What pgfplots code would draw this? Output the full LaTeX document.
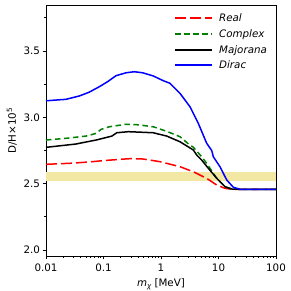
\documentclass[border=0pt]{standalone}
\usepackage{pgfplots}
\pgfplotsset{compat=1.18}
\usepackage{fontspec}
\setmainfont{DejaVu Sans}
\definecolor{band}{RGB}{242,231,163}
\definecolor{mgreen}{RGB}{0,128,0}
\begin{document}
\fontsize{10pt}{12pt}\selectfont
\begin{tikzpicture}
\useasboundingbox (0,0) rectangle (291pt,291pt);
\begin{axis}[
  at={(46pt,35pt)}, anchor=south west,
  scale only axis, width=230pt, height=251pt,
  xmode=log, xmin=0.01, xmax=100, ymin=1.955, ymax=3.847,
  xtick={0.01,0.1,1,10,100}, xticklabels={0.01,0.1,1,10,100},
  ytick={2.0,2.5,3.0,3.5}, yticklabels={2.0,2.5,3.0,3.5},
  minor ytick={2.25,2.75,3.25,3.75},
  tick pos=left, tick align=outside,
  major tick length=3.5pt, minor tick length=2pt,
  every tick/.style={black, line width=0.8pt},
  axis line style={line width=0.8pt},
  /pgf/number format/assume math mode=true,
  tick label style={font=\fontsize{10.3pt}{12pt}\selectfont},
  xticklabel style={yshift=-1pt},
  yticklabel style={xshift=1pt},
  xlabel={\textit{m}\raisebox{-0.35ex}{\fontsize{7pt}{8pt}\selectfont\itshape χ} [MeV]},
  ylabel={D/H×10\textsuperscript{5}},
  label style={font=\fontsize{10.3pt}{12pt}\selectfont},
]
\addplot[draw=none, fill=band, forget plot] coordinates {(0.01,2.522) (100,2.522) (100,2.585) (0.01,2.585)} -- cycle;
\addplot[red, line width=1.5pt, dash pattern=on 11pt off 4pt, forget plot] coordinates {
(0.01,2.646) (0.03,2.655) (0.06,2.665) (0.1,2.674) (0.2,2.684) (0.3,2.689) (0.49,2.686)
(0.96,2.666) (2.14,2.628) (3.65,2.59) (6.24,2.54) (9.3,2.49) (13,2.465) (17,2.458) (25,2.457) (100,2.457)};
\addplot[mgreen, line width=1.5pt, dash pattern=on 5.5pt off 3.5pt, forget plot] coordinates {
(0.01,2.829) (0.0223,2.842) (0.0497,2.859) (0.074,2.879) (0.0905,2.909) (0.126,2.929) (0.246,2.948) (0.4,2.944)
(0.734,2.929) (1.256,2.895) (2.14,2.854) (3.19,2.79) (3.65,2.775) (5.1,2.703) (6.24,2.653) (8.13,2.578)
(9.3,2.541) (13,2.477) (17,2.46) (25,2.457) (100,2.457)};
\addplot[black, line width=1.5pt, forget plot] coordinates {
(0.01,2.774) (0.033,2.799) (0.074,2.829) (0.14,2.859) (0.17,2.884) (0.27,2.892) (0.45,2.888)
(0.734,2.884) (1.256,2.859) (2.14,2.816) (3.65,2.754) (4.18,2.716) (5.1,2.678) (6.65,2.616)
(9.3,2.541) (13,2.477) (17,2.46) (25,2.457) (100,2.457)};
\addplot[blue, line width=1.5pt, forget plot] coordinates {
(0.01,3.125) (0.0223,3.136) (0.0379,3.161) (0.0566,3.19) (0.0845,3.231) (0.118,3.269) (0.165,3.314)
(0.246,3.336) (0.343,3.344) (0.481,3.336) (0.734,3.312) (1.1,3.276) (1.43,3.257) (2.14,3.181)
(3.19,3.08) (4.45,2.955) (6.24,2.804) (7.62,2.75) (8.13,2.703) (10.6,2.628) (13.9,2.528) (18.1,2.473) (23.7,2.458) (30,2.457) (100,2.457)};
% legend
\draw[red, line width=1.5pt, dash pattern=on 11pt off 4pt] (axis description cs:0.561,0.949) -- ++(37pt,0pt);
\draw[mgreen, line width=1.5pt, dash pattern=on 5.5pt off 3.5pt] (axis description cs:0.561,0.884) -- ++(37pt,0pt);
\draw[black, line width=1.5pt] (axis description cs:0.561,0.821) -- ++(37pt,0pt);
\draw[blue, line width=1.5pt] (axis description cs:0.561,0.761) -- ++(37pt,0pt);
\begin{scope}[every node/.style={anchor=base west, inner sep=0pt, yshift=-3.7pt, font=\fontsize{10.3pt}{12pt}\selectfont\itshape}]
\node at (axis description cs:0.752,0.947) {Real};
\node at (axis description cs:0.752,0.884) {Complex};
\node at (axis description cs:0.752,0.821) {Majorana};
\node at (axis description cs:0.752,0.761) {Dirac};
\end{scope}
\end{axis}
\end{tikzpicture}
\end{document}
